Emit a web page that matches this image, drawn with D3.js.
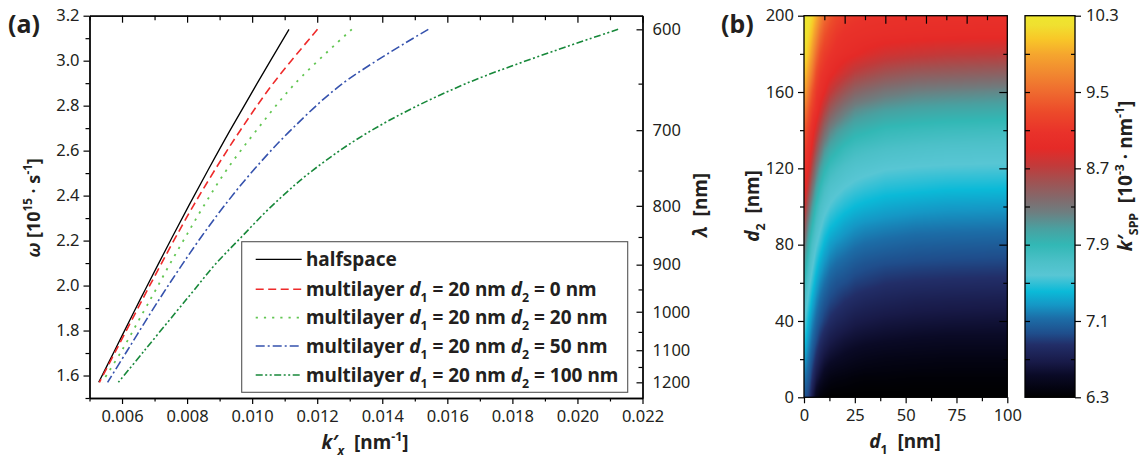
<!DOCTYPE html>
<html><head><meta charset="utf-8">
<script src="https://cdn.jsdelivr.net/npm/d3@7"></script>
<style>
body{margin:0;background:#fff;}
svg{display:block;font-family:"Noto Sans",sans-serif;}
.ax .domain{stroke:#000;stroke-width:1.3;}
.ax line{stroke:#000;stroke-width:1.2;}
.ax text{font-size:16.5px;fill:#231f20;font-family:"Noto Sans",sans-serif;}
.lbl{font-weight:bold;fill:#231f20;}
</style></head><body>
<svg id="chart" width="1141" height="462"></svg>
<script>
// ---------- Panel (a) data ----------
const lambdaNm = [600,650,700,750,800,850,900,950,1000,1100,1200];
const omega    = [3.1394,2.8979,2.6909,2.5115,2.3546,2.2161,2.0929,1.9828,1.8837,1.7124,1.5697];
const kHalfspace = [0.011133,0.010149,0.009325,0.008637,0.008049,0.007545,0.007106,0.006715,0.006368,0.005778,0.005283];
const kD2_0   = [0.012009,0.010641,0.009639,0.008843,0.008191,0.007653,0.007192,0.006789,0.006432,0.005818,0.005304];
const kD2_20  = [0.013063,0.011317,0.010137,0.009202,0.008514,0.007951,0.007459,0.007044,0.00666,0.005999,0.005384];
const kD2_50  = [0.015415,0.012777,0.011188,0.010032,0.009144,0.008434,0.007847,0.007342,0.006903,0.006168,0.005556];
const kD2_100 = [0.02125,0.01657,0.01368,0.011855,0.01061,0.009672,0.008858,0.008231,0.007668,0.006697,0.005888];
const d2Legend = [0,20,50,100];
const xTicksMajor = [0.006,0.008,0.010,0.012,0.014,0.016,0.018,0.020,0.022];
const xTicksMinor = [0.005,0.007,0.009,0.011,0.013,0.015,0.017,0.019,0.021];
const yTicksMajor = [1.6,1.8,2.0,2.2,2.4,2.6,2.8,3.0,3.2];
const yTicksMinor = [1.5,1.7,1.9,2.1,2.3,2.5,2.7,2.9,3.1];
const lambdaTicksMajor = [600,700,800,900,1000,1100,1200];
const lambdaTicksMinor = [650,750,850,950,1050,1150];

// ---------- Panel (b) data ----------
const d1Cols = [0,1,2,3,4,6,8,10,13,16,20,25,30,40,55,70,100];
const d2Rows = [0,10,20,30,40,50,60,70,80,90,100,110,120,130,140,150,160,170,180,190,200];
const kspp = [
[6.99,6.97,6.93,6.84,6.68,6.46,6.35,6.32,6.30,6.30,6.30,6.30,6.30,6.30,6.30,6.30,6.30],
[7.16,7.11,7.04,6.97,6.85,6.65,6.55,6.47,6.41,6.39,6.38,6.36,6.35,6.35,6.34,6.34,6.34],
[7.32,7.24,7.16,7.08,6.99,6.82,6.70,6.62,6.56,6.53,6.50,6.47,6.45,6.43,6.42,6.41,6.41],
[7.49,7.39,7.28,7.20,7.11,6.97,6.85,6.77,6.69,6.65,6.61,6.58,6.56,6.54,6.52,6.51,6.51],
[7.61,7.52,7.42,7.32,7.23,7.09,6.99,6.91,6.83,6.78,6.74,6.69,6.67,6.64,6.62,6.61,6.60],
[7.73,7.64,7.55,7.46,7.36,7.21,7.10,7.02,6.94,6.90,6.85,6.81,6.78,6.75,6.72,6.71,6.70],
[7.89,7.77,7.66,7.58,7.50,7.34,7.22,7.14,7.05,7.00,6.97,6.92,6.90,6.86,6.84,6.83,6.82],
[8.08,7.94,7.80,7.70,7.62,7.47,7.35,7.26,7.17,7.12,7.08,7.03,7.00,6.97,6.95,6.94,6.93],
[8.32,8.14,7.98,7.85,7.74,7.59,7.49,7.39,7.29,7.24,7.20,7.15,7.12,7.09,7.06,7.05,7.04],
[8.59,8.40,8.18,8.04,7.91,7.72,7.61,7.52,7.43,7.38,7.32,7.27,7.24,7.21,7.18,7.17,7.16],
[8.84,8.67,8.45,8.26,8.10,7.87,7.73,7.64,7.56,7.51,7.46,7.41,7.38,7.34,7.31,7.29,7.28],
[9.00,8.90,8.72,8.53,8.34,8.06,7.89,7.77,7.67,7.63,7.58,7.54,7.51,7.47,7.45,7.43,7.42],
[9.10,9.03,8.95,8.79,8.61,8.29,8.08,7.94,7.82,7.76,7.70,7.65,7.63,7.59,7.57,7.56,7.55],
[9.20,9.14,9.06,8.98,8.86,8.56,8.32,8.14,8.00,7.93,7.85,7.79,7.76,7.72,7.69,7.67,7.66],
[9.38,9.30,9.20,9.12,9.03,8.81,8.59,8.40,8.21,8.12,8.04,7.96,7.93,7.87,7.84,7.82,7.80],
[9.60,9.52,9.40,9.28,9.18,9.04,8.84,8.67,8.48,8.37,8.26,8.16,8.12,8.06,8.02,8.00,7.98],
[9.85,9.78,9.64,9.50,9.36,9.14,9.04,8.92,8.74,8.64,8.53,8.42,8.37,8.29,8.23,8.21,8.18],
[10.05,9.98,9.86,9.74,9.60,9.30,9.14,9.07,8.96,8.88,8.79,8.69,8.64,8.56,8.50,8.48,8.45],
[10.20,10.15,10.05,9.95,9.82,9.52,9.30,9.18,9.10,9.03,8.98,8.93,8.88,8.81,8.77,8.74,8.72],
[10.28,10.25,10.18,10.10,10.00,9.75,9.50,9.34,9.22,9.13,9.07,9.04,9.02,8.99,8.97,8.96,8.95],
[10.30,10.30,10.28,10.22,10.15,9.95,9.72,9.52,9.37,9.26,9.17,9.13,9.10,9.08,9.06,9.06,9.05]
];
const d1TicksMajor = [0,25,50,75,100];
const d1TicksMinor = [12.5,37.5,62.5,87.5];
const d1TopMajor = [20,40,60,80];
const d1TopMinor = [10,30,50,70,90];
const d2TicksMajor = [0,40,80,120,160,200];
const d2TicksMinor = [20,60,100,140,180];
const cbTicksMajor = [6.3,7.1,7.9,8.7,9.5,10.3];
const cbTicksMinor = [6.7,7.5,8.3,9.1,9.9];
const cbStopValues = [10.3,10.2,10.06,9.89,9.71,9.5,9.29,9.08,8.91,8.73,8.56,8.38,8.24,8.07,7.9,7.72,7.58,7.41,7.27,7.13,6.97,6.85,6.67,6.53,6.39,6.3];
const cbStopColors = ["#eee62e","#f0e030","#f8c828","#f5a52e","#f18a30","#ef6a2f","#ec4a2a","#e9322a","#e52a27","#c23a3a","#a05252","#826a6c","#6e7e80","#4aa0a0","#32b8b5","#4cc0c8","#58c6d4","#0bbad8","#1598c6","#1c6ea8","#1f4e8c","#222e68","#181a48","#0a0a26","#030310","#000000"];

const svg = d3.select("#chart");

function rich(sel, parts, size){
  let shift = 0;
  parts.forEach(p=>{
    const ts = sel.append("tspan").text(p.t);
    const target = p.sub ? 0.32*size : (p.sup ? -0.42*size : 0);
    if (target !== shift){ ts.attr("dy", target - shift); shift = target; }
    if (p.sub || p.sup) ts.attr("font-size", size*0.65);
    if (p.it) ts.attr("font-style","italic");
  });
}

// ================= Panel (a) =================
const A = {l:89.5, r:642.5, t:15.7, b:398};
const x = d3.scaleLinear().domain([0.005,0.022]).range([A.l, A.r]);
const y = d3.scaleLinear().domain([1.5,3.2]).range([A.b, A.t]);
const toOmega = l => 1883.65 / l;

const gA = svg.append("g");
gA.append("g").attr("class","ax").attr("transform",`translate(${A.l},0)`)
  .call(d3.axisLeft(y).tickValues(yTicksMajor).tickSize(6).tickSizeOuter(0).tickPadding(4).tickFormat(d3.format(".1f")));
gA.append("g").attr("class","ax").attr("transform",`translate(${A.l},0)`)
  .call(d3.axisLeft(y).tickValues(yTicksMinor).tickSize(4).tickSizeOuter(0).tickFormat(""));
gA.append("g").attr("class","ax").attr("transform",`translate(0,${A.b})`)
  .call(d3.axisBottom(x).tickValues(xTicksMajor).tickSize(6).tickSizeOuter(0).tickPadding(6).tickFormat(d3.format(".3f")));
gA.append("g").attr("class","ax").attr("transform",`translate(0,${A.b})`)
  .call(d3.axisBottom(x).tickValues(xTicksMinor).tickSize(3.5).tickSizeOuter(0).tickFormat(""));
gA.append("g").attr("class","ax").attr("transform",`translate(0,${A.t})`)
  .call(d3.axisBottom(x).tickValues(xTicksMajor).tickSize(7).tickSizeOuter(0).tickFormat(""));
gA.append("g").attr("class","ax").attr("transform",`translate(0,${A.t})`)
  .call(d3.axisBottom(x).tickValues(xTicksMinor).tickSize(4.5).tickSizeOuter(0).tickFormat(""));
gA.append("g").attr("class","ax").attr("transform",`translate(${A.r},0)`)
  .call(d3.axisLeft(y).tickValues(lambdaTicksMajor.map(toOmega)).tickSize(6).tickSizeOuter(0).tickFormat(""));
gA.append("g").attr("class","ax").attr("transform",`translate(${A.r},0)`)
  .call(d3.axisLeft(y).tickValues(lambdaTicksMinor.map(toOmega)).tickSize(4).tickSizeOuter(0).tickFormat(""));
const rl = gA.append("g").attr("class","ax").attr("transform",`translate(${A.r},0)`)
  .call(d3.axisRight(y).tickValues(lambdaTicksMajor.map(toOmega)).tickSize(0).tickPadding(10).tickFormat((d,i)=>lambdaTicksMajor[i]));
rl.select(".domain").remove();

const series = [
  {k:kHalfspace, color:"#000000", dash:null, w:1.3},
  {k:kD2_0,   color:"#ee2a2a", dash:"8,4.5", w:1.6},
  {k:kD2_20,  color:"#62c652", dash:"2.2,6", w:1.8},
  {k:kD2_50,  color:"#3552ad", dash:"9,3,2,3", w:1.6},
  {k:kD2_100, color:"#17883a", dash:"7,2.5,2,2.5,2,2.5", w:1.6}
];
const line = d3.line().x(d=>x(d[0])).y(d=>y(d[1])).curve(d3.curveCatmullRom.alpha(0.5));
series.forEach(s=>{
  gA.append("path").attr("d", line(s.k.map((k,i)=>[k, omega[i]])))
    .attr("fill","none").attr("stroke",s.color).attr("stroke-width",s.w)
    .attr("stroke-dasharray",s.dash);
});

const L = {x:241.7, y:241.7, w:386, h:150.6};
gA.append("rect").attr("x",L.x).attr("y",L.y).attr("width",L.w).attr("height",L.h)
  .attr("fill","#fff").attr("stroke","#555").attr("stroke-width",1.1);
const rowY = [259.3,289.3,317.7,346,375];
series.forEach((s,i)=>{
  gA.append("line").attr("x1",255.7).attr("x2",301.7).attr("y1",rowY[i]).attr("y2",rowY[i])
    .attr("stroke",s.color).attr("stroke-width",s.w).attr("stroke-dasharray",s.dash);
  const t = gA.append("text").attr("class","lbl").attr("x",306).attr("y",rowY[i]+6.5).attr("font-size",19);
  if (i===0) t.text("halfspace");
  else rich(t, [{t:"multilayer "},{t:"d",it:true},{t:"1",sub:true},{t:" = 20 nm "},{t:"d",it:true},{t:"2",sub:true},{t:` = ${d2Legend[i-1]} nm`}], 19);
});

svg.append("text").attr("class","lbl").attr("x",8).attr("y",33).attr("font-size",25).text("(a)");
const yl = svg.append("text").attr("class","lbl").attr("font-size",18).attr("text-anchor","middle")
  .attr("transform","translate(40,208) rotate(-90)");
rich(yl,[{t:"ω",it:true},{t:" [10"},{t:"15",sup:true},{t:" · s"},{t:"-1",sup:true},{t:"]"}],18);
const xl = svg.append("text").attr("class","lbl").attr("font-size",19).attr("text-anchor","middle")
  .attr("transform","translate(365,449)");
rich(xl,[{t:"k′",it:true},{t:"x",it:true,sub:true},{t:"\u00a0\u00a0[nm"},{t:"-1",sup:true},{t:"]"}],19);
svg.append("text").attr("class","lbl").attr("font-size",19).attr("text-anchor","middle")
  .attr("transform","translate(707,205) rotate(-90)")
  .call(t=>rich(t,[{t:"λ",it:true},{t:"\u00a0\u00a0[nm]"}],19));

// ================= Panel (b) =================
const H = {l:804, r:1007.3, t:15.7, b:397.3};
const xH = d3.scaleLinear().domain([0,100]).range([H.l,H.r]);
const yH = d3.scaleLinear().domain([0,200]).range([H.b,H.t]);
const color = d3.scaleLinear().domain(cbStopValues).range(cbStopColors).clamp(true);

function valueAt(d1,d2){
  const i = Math.min(Math.max(d3.bisectRight(d1Cols,d1)-1,0), d1Cols.length-2);
  const j = Math.min(Math.max(d3.bisectRight(d2Rows,d2)-1,0), d2Rows.length-2);
  const tx = Math.min(Math.max((d1-d1Cols[i])/(d1Cols[i+1]-d1Cols[i]),0),1);
  const ty = Math.min(Math.max((d2-d2Rows[j])/(d2Rows[j+1]-d2Rows[j]),0),1);
  const a = kspp[j][i]*(1-tx)+kspp[j][i+1]*tx;
  const b = kspp[j+1][i]*(1-tx)+kspp[j+1][i+1]*tx;
  return a*(1-ty)+b*ty;
}
const W = Math.round(H.r-H.l), Hh = Math.round(H.b-H.t);
const cv = document.createElement("canvas"); cv.width=W; cv.height=Hh;
const ctx = cv.getContext("2d"); const img = ctx.createImageData(W,Hh);
for (let py=0; py<Hh; py++){
  const d2 = yH.invert(H.t + (py+0.5)*(H.b-H.t)/Hh);
  for (let px=0; px<W; px++){
    const d1 = xH.invert(H.l + (px+0.5)*(H.r-H.l)/W);
    const c = d3.rgb(color(valueAt(d1,d2)));
    const o = (py*W+px)*4;
    img.data[o]=c.r; img.data[o+1]=c.g; img.data[o+2]=c.b; img.data[o+3]=255;
  }
}
ctx.putImageData(img,0,0);
const gB = svg.append("g");
gB.append("image").attr("href",cv.toDataURL()).attr("x",H.l).attr("y",H.t)
  .attr("width",H.r-H.l).attr("height",H.b-H.t).attr("preserveAspectRatio","none");
gB.append("rect").attr("x",H.l).attr("y",H.t).attr("width",H.r-H.l).attr("height",H.b-H.t)
  .attr("fill","none").attr("stroke","#000").attr("stroke-width",1.3);

function ax(g, tr, axis){ const a = g.append("g").attr("class","ax").attr("transform",tr).call(axis); a.select(".domain").remove(); return a; }
ax(gB,`translate(${H.l},0)`, d3.axisLeft(yH).tickValues(d2TicksMajor).tickSize(6).tickPadding(4));
ax(gB,`translate(${H.l},0)`, d3.axisLeft(yH).tickValues(d2TicksMinor).tickSize(4).tickFormat(""));
ax(gB,`translate(${H.r},0)`, d3.axisLeft(yH).tickValues(d2TicksMajor.slice(1,-1)).tickSize(8).tickFormat(""));
ax(gB,`translate(${H.r},0)`, d3.axisLeft(yH).tickValues(d2TicksMinor).tickSize(4).tickFormat(""));
ax(gB,`translate(0,${H.b})`, d3.axisBottom(xH).tickValues(d1TicksMajor).tickSize(6).tickPadding(6));
ax(gB,`translate(0,${H.b})`, d3.axisBottom(xH).tickValues(d1TicksMinor).tickSize(4).tickFormat(""));
ax(gB,`translate(0,${H.t})`, d3.axisBottom(xH).tickValues(d1TopMajor).tickSize(8).tickFormat(""));
ax(gB,`translate(0,${H.t})`, d3.axisBottom(xH).tickValues(d1TopMinor).tickSize(4.5).tickFormat(""));

const C = {l:1025, r:1075, t:15.7, b:397.3};
const yC = d3.scaleLinear().domain([6.3,10.3]).range([C.b,C.t]);
const grad = svg.append("defs").append("linearGradient").attr("id","cbg")
  .attr("x1",0).attr("y1",0).attr("x2",0).attr("y2",1);
cbStopValues.forEach((v,i)=>grad.append("stop").attr("offset",(10.3-v)/4).attr("stop-color",cbStopColors[i]));
gB.append("rect").attr("x",C.l).attr("y",C.t).attr("width",C.r-C.l).attr("height",C.b-C.t)
  .attr("fill","url(#cbg)").attr("stroke","#000").attr("stroke-width",1.3);
ax(gB,`translate(${C.r},0)`, d3.axisRight(yC).tickValues(cbTicksMajor).tickSize(6).tickPadding(5).tickFormat(d3.format(".1f")));
ax(gB,`translate(${C.r},0)`, d3.axisLeft(yC).tickValues(cbTicksMinor).tickSize(4).tickFormat(""));
ax(gB,`translate(${C.l},0)`, d3.axisRight(yC).tickValues(cbTicksMajor.slice(1,-1).concat(cbTicksMinor)).tickSize(5).tickFormat(""));

svg.append("text").attr("class","lbl").attr("x",721).attr("y",33).attr("font-size",25).text("(b)");
svg.append("text").attr("class","lbl").attr("font-size",19).attr("text-anchor","middle")
  .attr("transform","translate(759,206) rotate(-90)")
  .call(t=>rich(t,[{t:"d",it:true},{t:"2",sub:true},{t:"\u00a0\u00a0[nm]"}],19));
svg.append("text").attr("class","lbl").attr("font-size",19).attr("text-anchor","middle")
  .attr("transform","translate(905,448)")
  .call(t=>rich(t,[{t:"d",it:true},{t:"1",sub:true},{t:"\u00a0\u00a0[nm]"}],19));
svg.append("text").attr("class","lbl").attr("font-size",19).attr("text-anchor","middle")
  .attr("transform","translate(1132,176) rotate(-90)")
  .call(t=>rich(t,[{t:"k′",it:true},{t:"SPP",sub:true},{t:"\u00a0\u00a0[10"},{t:"-3",sup:true},{t:" · nm"},{t:"-1",sup:true},{t:"]"}],19));
</script>
</body></html>
